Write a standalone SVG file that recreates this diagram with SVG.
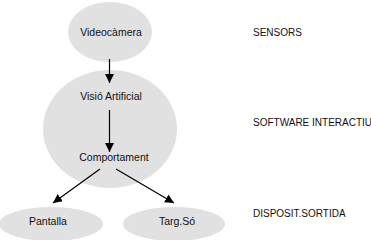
<svg xmlns="http://www.w3.org/2000/svg" width="371" height="240" viewBox="0 0 371 240">
<defs>
<marker id="ah" viewBox="0 0 10 10" refX="10" refY="5" markerWidth="9" markerHeight="9" markerUnits="userSpaceOnUse" orient="auto">
<path d="M0,0 L10,5 L0,10 z" fill="#000"/>
</marker>
</defs>
<style>
.n{fill:#e1e1e1;stroke:none}
.t{font-family:"Liberation Sans",Arial,sans-serif;font-size:10.5px;fill:#111;text-anchor:middle;dominant-baseline:central}
.l{font-family:"Liberation Sans",Arial,sans-serif;font-size:10px;fill:#111;dominant-baseline:central}
.c{stroke:#000;stroke-width:1.2;fill:none;marker-end:url(#ah)}
</style>
<rect width="371" height="240" fill="#fff"/>
<g id="software">
<ellipse class="n" cx="110" cy="129" rx="67" ry="59"/>
</g>
<g id="videocamera">
<ellipse class="n" cx="110" cy="32" rx="42" ry="30"/>
<text class="t" x="111" y="32">Videocàmera</text>
</g>
<g id="visio">
<text class="t" x="111" y="96">Visió Artificial</text>
</g>
<g id="comportament">
<text class="t" x="114" y="157">Comportament</text>
</g>
<g id="pantalla">
<ellipse class="n" cx="51" cy="224" rx="52" ry="17"/>
<text class="t" x="48" y="221">Pantalla</text>
</g>
<g id="targso">
<ellipse class="n" cx="174" cy="224" rx="51" ry="17"/>
<text class="t" x="177" y="221">Targ.Só</text>
</g>
<g id="connectors">
<line class="c" x1="109.5" y1="59" x2="109.5" y2="83"/>
<line class="c" x1="109.5" y1="110" x2="109.5" y2="152"/>
<line class="c" x1="100" y1="169" x2="53" y2="203"/>
<line class="c" x1="116" y1="169" x2="174" y2="203"/>
</g>
<g id="labels">
<text class="l" x="253" y="32">SENSORS</text>
<text class="l" x="253" y="122">SOFTWARE INTERACTIU</text>
<text class="l" x="253" y="213">DISPOSIT.SORTIDA</text>
</g>
</svg>
